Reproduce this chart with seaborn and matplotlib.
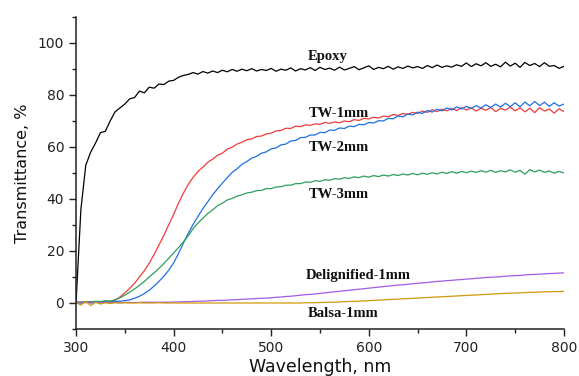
import matplotlib
matplotlib.use("Agg")
import matplotlib.pyplot as plt
import numpy as np
import pandas as pd
import seaborn as sns
from matplotlib.ticker import MultipleLocator

# wavelength grid, nm (5 nm steps, 300-800)
wavelength = list(range(300, 805, 5))

epoxy = [
    0, 36, 53, 58, 61.5, 65.5, 66, 70, 73.5, 75,
    76.5, 78.5, 79, 81.5, 80.8, 83, 82.6, 84.2, 84, 85.3,
    85.6, 86.8, 87.5, 87.9, 88.6, 88, 89, 88.4, 89.2, 88.6,
    89.5, 88.9, 89.8, 89.1, 89.9, 89.3, 90.1, 89.2, 89.8, 89.4,
    90.2, 89.1, 89.9, 89.5, 90.4, 89.2, 90.1, 89.6, 90.5, 89.4,
    90.6, 89.8, 90.3, 89.5, 90.7, 89.6, 90.2, 90.9, 89.7, 90.4,
    91.2, 89.8, 90.6, 90.1, 91, 89.9, 90.8, 90.2, 91.1, 90.4,
    90.9, 90.2, 91.3, 90.5, 91.5, 90.6, 91.2, 90.7, 91.6, 91,
    92.3, 90.9, 92, 91.2, 92.4, 91, 91.8, 90.8, 92.6, 91.1,
    92.2, 90.6, 92.5, 91.3, 92.1, 90.9, 92.4, 91, 91.3, 90.2,
    91,
]
tw_1mm = [
    0.2, 0.4, 0.1, 0.5, 0.3, 0.6, 0.4, 0.7, 1.1, 2.3,
    3.9, 5.6, 7.6, 10, 12.4, 15.3, 18.6, 22.3, 26, 30.1,
    34, 38.4, 42.2, 45.6, 48.3, 50.6, 52.2, 54.1, 55.3, 56.8,
    57.6, 59.2, 59.9, 61.1, 61.8, 62.8, 63.1, 64, 64.2, 65,
    65.3, 66.2, 66.3, 67.2, 67.1, 68, 67.8, 68.5, 68.3, 68.9,
    68.7, 69.4, 69.1, 69.6, 69.3, 70, 69.7, 70.5, 70.2, 71,
    70.8, 71.4, 71.1, 71.9, 71.6, 72.5, 72.1, 72.9, 72.5, 73.3,
    72.9, 73.8, 73.3, 74.3, 73.6, 74.5, 73.9, 74.8, 74, 75.1,
    74.2, 75, 73.8, 74.9, 74.1, 75.2, 73.6, 74.8, 74.2, 75.3,
    73.9, 75, 73.5, 74.9, 73.2, 75.1, 73.8, 74.6, 73, 74.7,
    73.6,
]
tw_2mm = [
    0.3, 0.2, 0.5, 0.3, 0.4, 0.2, 0.5, 0.4, 0.6, 0.7,
    0.9, 1.2, 1.8, 2.6, 3.6, 4.9, 6.5, 8.3, 10.3, 12.6,
    15.4, 19, 23, 26.8, 30.2, 33.3, 36.3, 38.9, 41.6, 43.9,
    46.1, 48.2, 50.2, 51.6, 53.3, 54.4, 55.7, 56.4, 57.6, 58.1,
    59.3, 59.6, 60.8, 61.1, 62.3, 62.5, 63.6, 63.7, 64.6, 64.6,
    65.6, 65.5, 66.5, 66.4, 67.3, 67.1, 68, 67.8, 68.7, 68.5,
    69.4, 69.2, 70.1, 70, 71, 70.8, 71.9, 71.6, 72.7, 72.3,
    73.4, 72.9, 74, 73.4, 74.5, 73.9, 75, 74.2, 75.4, 74.6,
    75.6, 74.8, 75.9, 75, 76.2, 75.2, 76.5, 75.3, 76.8, 75.5,
    77, 75.4, 77.3, 75.8, 77.5, 75.9, 77.2, 75.6, 77, 75.7,
    76.5,
]
tw_3mm = [
    0.4, 0.1, 0.6, 0.3, 0.7, 0.5, 0.9, 0.7, 1.2, 2,
    3, 4.2, 5.4, 6.8, 8.3, 10, 11.6, 13.3, 15.2, 17.2,
    19.2, 21.3, 23.5, 25.9, 28.6, 30.8, 32.6, 34.4, 35.8, 37.4,
    38.4, 39.6, 40.2, 41.1, 41.6, 42.3, 42.6, 43.2, 43.3, 44,
    44, 44.6, 44.7, 45.3, 45.3, 45.9, 45.9, 46.5, 46.4, 47,
    46.8, 47.4, 47.2, 47.8, 47.6, 48.2, 47.9, 48.5, 48.2, 48.8,
    48.4, 49, 48.6, 49.2, 48.8, 49.4, 49, 49.6, 49.2, 49.8,
    49.3, 49.9, 49.5, 50.1, 49.6, 50.3, 49.8, 50.5, 49.9, 50.6,
    50.1, 50.7, 50.2, 50.9, 50.3, 51, 50.2, 50.9, 50.4, 51.2,
    50.3, 51, 49.5, 51.3, 50.4, 51.1, 50.2, 50.8, 49.9, 50.6,
    50,
]
delignified_1mm = [
    0.3, -0.2, 0.4, -0.1, 0.2, 0.1, 0.2, 0.1, 0.2, 0.1,
    0.2, 0.2, 0.2, 0.2, 0.3, 0.3, 0.3, 0.3, 0.3, 0.3,
    0.4, 0.4, 0.5, 0.5, 0.6, 0.7, 0.7, 0.8, 0.9, 1.0,
    1.0, 1.1, 1.2, 1.3, 1.4, 1.5, 1.6, 1.7, 1.8, 1.9,
    2.0, 2.2, 2.3, 2.5, 2.6, 2.8, 3.0, 3.2, 3.3, 3.5,
    3.7, 3.9, 4.1, 4.3, 4.5, 4.7, 4.9, 5.1, 5.3, 5.5,
    5.7, 5.9, 6.1, 6.3, 6.5, 6.7, 6.9, 7.0, 7.2, 7.4,
    7.6, 7.7, 7.9, 8.1, 8.3, 8.4, 8.6, 8.7, 8.9, 9.0,
    9.2, 9.3, 9.5, 9.6, 9.8, 9.9, 10.0, 10.1, 10.3, 10.4,
    10.5, 10.6, 10.8, 10.9, 11.0, 11.1, 11.2, 11.3, 11.4, 11.5,
    11.6,
]
balsa_1mm = [
    0.2, -0.8, 0.6, -1.0, 0.3, -0.4, 0.1, -0.2, 0.1, 0.0,
    0.1, 0.0, 0.0, 0.1, 0.0, 0.0, 0.0, 0.1, 0.0, 0.0,
    0.0, 0.0, 0.0, 0.0, 0.0, 0.0, 0.0, 0.0, 0.0, 0.0,
    0.0, 0.0, 0.0, 0.0, 0.0, 0.0, 0.0, 0.0, 0.0, 0.0,
    0.0, 0.0, 0.0, 0.0, 0.0, 0.0, 0.0, 0.1, 0.1, 0.1,
    0.2, 0.2, 0.3, 0.3, 0.4, 0.5, 0.6, 0.6, 0.7, 0.8,
    0.9, 1.0, 1.1, 1.2, 1.3, 1.4, 1.5, 1.6, 1.7, 1.8,
    1.9, 2.0, 2.1, 2.2, 2.3, 2.4, 2.5, 2.6, 2.7, 2.8,
    2.9, 3.0, 3.1, 3.2, 3.3, 3.4, 3.5, 3.6, 3.7, 3.8,
    3.8, 3.9, 4.0, 4.1, 4.1, 4.2, 4.3, 4.3, 4.4, 4.4,
    4.5,
]

series_names = ["Epoxy", "TW-1mm", "TW-2mm", "TW-3mm", "Delignified-1mm", "Balsa-1mm"]
series_values = [epoxy, tw_1mm, tw_2mm, tw_3mm, delignified_1mm, balsa_1mm]
colors = ["#000000", "#f03c3c", "#1f6fe3", "#2e9e5e", "#a25ce6", "#d09a0a"]

# where the name of each curve sits (data coords)
label_pos = {
    "Epoxy": (537.5, 94.9),
    "TW-1mm": (538.5, 72.9),
    "TW-2mm": (538.5, 59.8),
    "TW-3mm": (538.5, 41.7),
    "Delignified-1mm": (535.5, 10.4),
    "Balsa-1mm": (537.0, -4.2),
}

frames = []
for name, vals in zip(series_names, series_values):
    frames.append(pd.DataFrame({"wavelength": wavelength, "T": vals, "sample": name}))
df = pd.concat(frames, ignore_index=True)

sns.set_style("ticks")
plt.rcParams["font.family"] = ["DejaVu Sans"]

fig = plt.figure(figsize=(5.79, 3.76), dpi=100)
ax = fig.add_axes([0.1313, 0.125, 0.8427, 0.830])

sns.lineplot(data=df, x="wavelength", y="T", hue="sample", hue_order=series_names,
             palette=dict(zip(series_names, colors)), estimator=None, sort=False,
             linewidth=0.9, legend=False, ax=ax)

for name in series_names:
    x, y = label_pos[name]
    ax.text(x, y, name, ha="left", va="center", fontsize=10.5, fontweight="bold",
            family=["Liberation Serif"], color="#111111")

ax.set_xlim(300, 800)
ax.set_ylim(-10, 110)
ax.xaxis.set_major_locator(MultipleLocator(100))
ax.xaxis.set_minor_locator(MultipleLocator(50))
ax.yaxis.set_major_locator(MultipleLocator(20))
ax.yaxis.set_minor_locator(MultipleLocator(10))
ax.set_yticks([0, 20, 40, 60, 80, 100])

sns.despine(ax=ax)
for side in ["left", "bottom"]:
    ax.spines[side].set_linewidth(1.1)
    ax.spines[side].set_color("#222222")
ax.tick_params(which="major", direction="out", length=5, width=1.0, color="#222222",
               labelsize=10, pad=3.5, labelcolor="#222222")
ax.tick_params(which="minor", direction="out", length=2.8, width=1.0, color="#222222")

ax.set_xlabel("Wavelength, nm", fontsize=12.5, labelpad=2, color="#111111")
ax.set_ylabel("Transmittance, %", fontsize=11.5, labelpad=6, color="#111111")

fig.savefig("out.png", dpi=100)
